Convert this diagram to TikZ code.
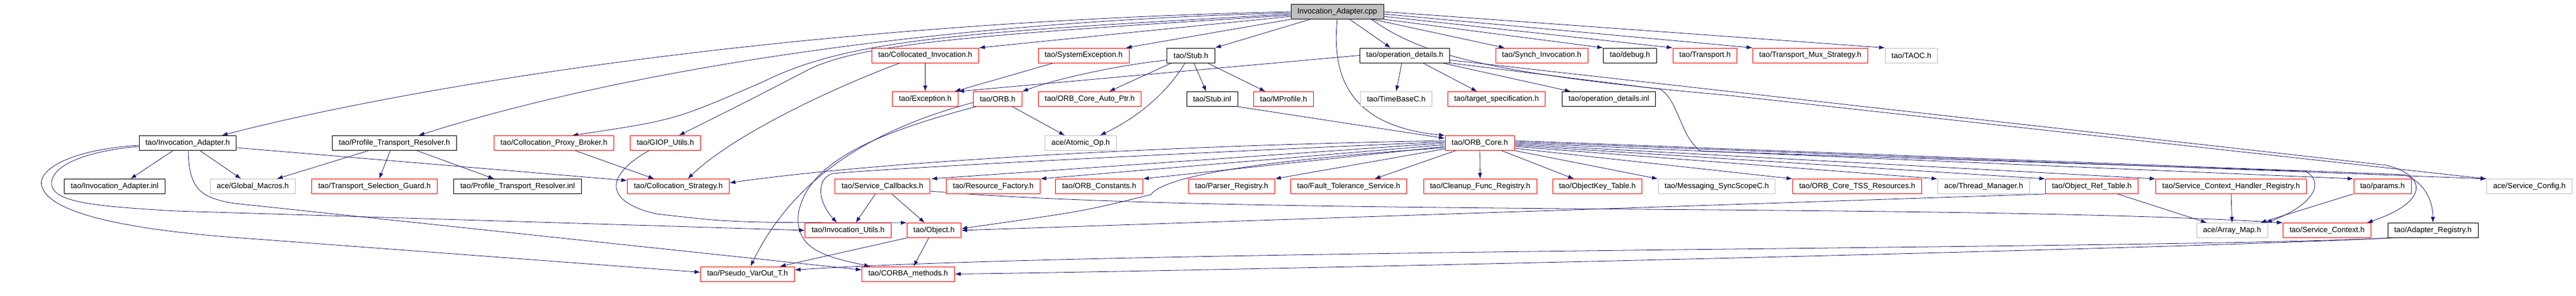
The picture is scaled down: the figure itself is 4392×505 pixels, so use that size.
\documentclass[tikz,border=0pt]{standalone}
\usepackage{fontspec}
\setmainfont{Liberation Sans}
\usetikzlibrary{arrows.meta,backgrounds}
\definecolor{edgeblue}{RGB}{25,25,112}
\definecolor{boxgrey}{RGB}{191,191,191}
\tikzset{
  filebox/.style={draw, line width=0.9pt, fill=white, inner xsep=11pt, inner ysep=0pt,
    minimum height=25pt, font=\fontsize{13}{15}\selectfont},
  blackbox/.style={filebox, draw=black},
  redbox/.style={filebox, draw=red},
  greybox/.style={filebox, draw=boxgrey},
  rootbox/.style={filebox, draw=black, fill=boxgrey},
  incl/.style={draw=edgeblue, line width=0.8pt, arrows={-Latex[length=10pt,width=7pt]}},
}
\begin{document}
\begin{tikzpicture}[x=1pt,y=-1pt]
\useasboundingbox (0,0) rectangle (4392,505);
% Datei
\node[rootbox] (rootcpp) at (2280,20) {Invocation\_Adapter.cpp};
% Reihe 1
\node[redbox]   (colinv)   at (1577.5,94.5) {tao/Collocated\_Invocation.h};
\node[redbox]   (sysexc)   at (1847.5,94.5) {tao/SystemException.h};
\node[blackbox] (stubh)    at (2030.5,94.5) {tao/Stub.h};
\node[blackbox] (opdet)    at (2395,94.5)   {tao/operation\_details.h};
\node[redbox]   (synch)    at (2628.5,94.5) {tao/Synch\_Invocation.h};
\node[blackbox] (debug)    at (2779,94.5)   {tao/debug.h};
\node[redbox]   (transp)   at (2907,94.5)   {tao/Transport.h};
\node[redbox]   (tmux)     at (3086.5,94.5) {tao/Transport\_Mux\_Strategy.h};
\node[greybox]  (taoc)     at (3259,94.5)   {tao/TAOC.h};
% Reihe 2
\node[redbox]   (exch)     at (1577.5,169) {tao/Exception.h};
\node[redbox]   (orbh)     at (1701,169)   {tao/ORB.h};
\node[redbox]   (orbcap)   at (1858,169)   {tao/ORB\_Core\_Auto\_Ptr.h};
\node[blackbox] (stubinl)  at (2066.5,169) {tao/Stub.inl};
\node[redbox]   (mprof)    at (2188.5,169) {tao/MProfile.h};
\node[greybox]  (timebase) at (2380.5,169) {tao/TimeBaseC.h};
\node[redbox]   (tspec)    at (2551.5,169) {tao/target\_specification.h};
\node[blackbox] (opdetinl) at (2743,169)   {tao/operation\_details.inl};
% Reihe 3
\node[blackbox] (iah)      at (320,244)    {tao/Invocation\_Adapter.h};
\node[blackbox] (ptrh)     at (672.5,244)  {tao/Profile\_Transport\_Resolver.h};
\node[redbox]   (cpb)      at (944.5,244)  {tao/Collocation\_Proxy\_Broker.h};
\node[redbox]   (giop)     at (1134.5,244) {tao/GIOP\_Utils.h};
\node[greybox]  (atomic)   at (1842.5,244) {ace/Atomic\_Op.h};
\node[redbox]   (orbcore)  at (2523,244)   {tao/ORB\_Core.h};
% Reihe 4
\node[blackbox] (iainl)    at (195.5,318)  {tao/Invocation\_Adapter.inl};
\node[greybox]  (globmac)  at (431,318)    {ace/Global\_Macros.h};
\node[redbox]   (tsg)      at (638.5,318)  {tao/Transport\_Selection\_Guard.h};
\node[blackbox] (ptrinl)   at (882.5,318)  {tao/Profile\_Transport\_Resolver.inl};
\node[redbox]   (colstrat) at (1156.5,318) {tao/Collocation\_Strategy.h};
\node[redbox]   (svccb)    at (1504.5,318) {tao/Service\_Callbacks.h};
\node[redbox]   (resfac)   at (1693.5,318) {tao/Resource\_Factory.h};
\node[redbox]   (orbconst) at (1874,318)   {tao/ORB\_Constants.h};
\node[redbox]   (parser)   at (2100,318)   {tao/Parser\_Registry.h};
\node[redbox]   (ftsvc)    at (2299.5,318) {tao/Fault\_Tolerance\_Service.h};
\node[redbox]   (cleanup)  at (2523.5,318) {tao/Cleanup\_Func\_Registry.h};
\node[redbox]   (okt)      at (2723.5,318) {tao/ObjectKey\_Table.h};
\node[greybox]  (msgsync)  at (2927,318)   {tao/Messaging\_SyncScopeC.h};
\node[redbox]   (tss)      at (3166.5,318) {tao/ORB\_Core\_TSS\_Resources.h};
\node[greybox]  (thrmgr)   at (3382,318)   {ace/Thread\_Manager.h};
\node[redbox]   (ort)      at (3566.5,318) {tao/Object\_Ref\_Table.h};
\node[redbox]   (schr)     at (3804,318)   {tao/Service\_Context\_Handler\_Registry.h};
\node[redbox]   (params)   at (4062,318)   {tao/params.h};
\node[greybox]  (svccfg)   at (4312.5,318) {ace/Service\_Config.h};
% Reihe 5
\node[redbox]   (invutil)  at (1446,393)   {tao/Invocation\_Utils.h};
\node[redbox]   (objh)     at (1592.5,393) {tao/Object.h};
\node[greybox]  (amap)     at (3805.5,393) {ace/Array\_Map.h};
\node[redbox]   (svcctx)   at (3967.5,393) {tao/Service\_Context.h};
\node[blackbox] (adreg)    at (4148,393)   {tao/Adapter\_Registry.h};
% Reihe 6
\node[redbox]   (pvo)      at (1274.5,467.5) {tao/Pseudo\_VarOut\_T.h};
\node[redbox]   (corba)    at (1548.5,467.5) {tao/CORBA\_methods.h};

\begin{scope}[on background layer]
% Invocation_Adapter.cpp
\draw[incl] (rootcpp.west) .. controls (1300,40) and (650,160) .. ([xshift=58pt]iah.north);
\draw[incl] ([yshift=-2pt]rootcpp.west) .. controls (1500,40) and (1000,140) .. ([xshift=41pt]ptrh.north);
\draw[incl] ([yshift=-4pt]rootcpp.west) .. controls (1650,55) and (1450,65) .. (1300,140) .. controls (1150,205) .. ([xshift=31pt]cpb.north);
\draw[incl] ([yshift=-6pt]rootcpp.west) .. controls (1650,60) and (1470,75) .. (1380,118) .. controls (1270,175) .. ([xshift=23pt]giop.north);
\draw[incl] ([yshift=-8pt]rootcpp.west) -- (colinv.north east);
\draw[incl] (rootcpp.south west) -- ([xshift=-6pt]sysexc.north east);
\draw[incl] ([xshift=-46pt]rootcpp.south) -- (stubh.north east);
\draw[incl] ([xshift=21pt]rootcpp.south) -- ([xshift=-24pt]opdet.north);
\draw[incl] (rootcpp.south) .. controls (2270,130) and (2300,215) .. (orbcore.north west);
\draw[incl] ([xshift=60pt]rootcpp.south) -- ([xshift=-63pt]synch.north);
\draw[incl] ([xshift=58pt]rootcpp.south) .. controls (2420,90) and (2520,125) .. (2950,163) -- (svccfg.north west);
\draw[incl] (rootcpp.south east) -- (debug.north west);
\draw[incl] ([yshift=-8pt]rootcpp.east) -- (transp.north west);
\draw[incl] ([yshift=-4pt]rootcpp.east) -- (tmux.north west);
\draw[incl] (rootcpp.east) -- (taoc.north west);
% operation_details.h
\draw[incl] (opdet.west) -- (exch.north east);
\draw[incl] ([xshift=-5pt]opdet.south) -- (timebase.north);
\draw[incl] ([xshift=31pt]opdet.south) -- ([xshift=-33pt]tspec.north);
\draw[incl] ([xshift=64pt]opdet.south) -- ([xshift=-65pt]opdetinl.north);
\draw[incl] ([yshift=-8pt]opdet.east) -- (4069,282) .. controls (4140,300) and (4140,345) .. ([xshift=68pt]svcctx.north);
\draw[incl] (opdet.south east) -- (2830,152) .. controls (2862,170) and (2865,235) .. (2900,258) -- (3930,292) .. controls (3965,310) and (3945,350) .. ([xshift=58pt]amap.north);
% Stub.h
\draw[incl] ([yshift=-8pt]stubh.west) .. controls (1900,112) and (1800,135) .. (orbh.north east);
\draw[incl] ([xshift=-33pt]stubh.south) -- ([xshift=33pt]orbcap.north);
\draw[incl] ([xshift=-10pt]stubh.south) .. controls (1995,150) and (1950,195) .. ([xshift=33pt]atomic.north);
\draw[incl] ([xshift=5pt]stubh.south) -- ([xshift=-10pt]stubinl.north);
\draw[incl] ([xshift=28pt]stubh.south) -- ([xshift=-31pt]mprof.north);
\draw[incl] (stubinl.south east) -- ([yshift=8pt]orbcore.west);
% Collocated_Invocation.h, SystemException.h, ORB.h
\draw[incl] (colinv.south) -- (exch.north);
\draw[incl] ([xshift=-43pt]colinv.south) .. controls (1420,150) and (1250,230) .. ([xshift=16pt]colstrat.north);
\draw[incl] ([xshift=-51pt]sysexc.south) -- ([xshift=50pt]exch.north);
\draw[incl] ([xshift=25pt]orbh.south) -- ([xshift=-27pt]atomic.north);
\draw[incl] ([yshift=-6pt]orbh.west) .. controls (1450,230) and (1340,330) .. ([xshift=5pt]pvo.north);
\draw[incl] ([xshift=5pt]orbh.south west) .. controls (1480,230) and (1380,280) .. (1362,360) .. controls (1350,430) and (1420,440) .. ([xshift=-65pt]corba.north);
% Invocation_Adapter.h
\draw[incl] ([xshift=-25pt]iah.south) -- ([xshift=27pt]iainl.north);
\draw[incl] ([xshift=21pt]iah.south) -- ([xshift=-20pt]globmac.north);
\draw[incl] ([yshift=-8pt]iah.east) -- ([yshift=10pt]colstrat.west);
\draw[incl] ([yshift=-4pt]iah.west) .. controls (120,255) and (60,290) .. (72,320) .. controls (90,370) and (250,395) .. (425,407) -- ([yshift=3pt]pvo.west);
\draw[incl] ([yshift=-6pt]iah.west) .. controls (140,258) and (85,285) .. (88,315) .. controls (92,345) and (160,352) .. (300,360) -- (invutil.west);
\draw[incl] ([xshift=1pt]iah.south) .. controls (322,320) and (340,338) .. (400,347) -- ([yshift=7pt]corba.west);
% Profile_Transport_Resolver.h, Collocation_Proxy_Broker.h, GIOP_Utils.h
\draw[incl] ([xshift=-44pt]ptrh.south) -- ([xshift=41pt]globmac.north);
\draw[incl] ([xshift=-7pt]ptrh.south) -- ([xshift=8pt]tsg.north);
\draw[incl] ([xshift=38pt]ptrh.south) -- ([xshift=-40pt]ptrinl.north);
\draw[incl] ([xshift=36pt]cpb.south) -- ([xshift=-41pt]colstrat.north);
\draw[incl] ([xshift=-28pt]giop.south) .. controls (1030,300) and (1030,345) .. (1120,365) .. controls (1250,380) .. ([yshift=13pt]objh.west);
% Service_Callbacks.h, Object.h
\draw[incl] ([xshift=-12pt]svccb.south) -- ([xshift=13pt]invutil.north);
\draw[incl] ([xshift=16pt]svccb.south) -- ([xshift=-16pt]objh.north);
\draw[incl] ([yshift=-8pt]svccb.east) .. controls (2100,370) and (3300,345) .. (svcctx.north west);
\draw[incl] (objh.south west) -- ([xshift=55pt]pvo.north);
\draw[incl] ([xshift=-9pt]objh.south) -- ([xshift=9pt]corba.north);
% rechts
\draw[incl] (ort.south west) -- (objh.east);
\draw[incl] ([xshift=44pt]ort.south) -- ([xshift=-43pt]amap.north);
\draw[incl] (schr.south) -- (amap.north);
\draw[incl] ([xshift=-50pt]params.south) -- ([xshift=48pt]amap.north);
\draw[incl] (adreg.south west) .. controls (3800,422) and (2200,460) .. (corba.east);
\draw[incl] ([xshift=8pt]adreg.south west) .. controls (3700,425) and (1900,425) .. ([yshift=7pt]pvo.east);
% ORB_Core.h
\draw[incl] ([yshift=4pt]orbcore.west) .. controls (2000,248) and (1500,275) .. ([yshift=6pt]colstrat.east);
\draw[incl] ([yshift=2pt]orbcore.west) .. controls (2000,262) and (1550,285) .. (1420,296) .. controls (1390,305) and (1395,345) .. ([xshift=-19pt]invutil.north);
\draw[incl] (orbcore.west) -- ([xshift=2pt]svccb.north east);
\draw[incl] ([yshift=-3pt]orbcore.west) -- (resfac.north east);
\draw[incl] ([yshift=-6pt]orbcore.west) -- (orbconst.north east);
\draw[incl] ([yshift=-8pt]orbcore.west) .. controls (2200,270) and (1990,295) .. (1962,332) .. controls (1850,360) .. ([yshift=3pt]objh.east);
\draw[incl] ([yshift=-10pt]orbcore.west) -- (parser.north east);
\draw[incl] ([xshift=-41pt]orbcore.south) -- ([xshift=44pt]ftsvc.north);
\draw[incl] (orbcore.south) -- (cleanup.north);
\draw[incl] ([xshift=37pt]orbcore.south) -- ([xshift=-40pt]okt.north);
\draw[incl] (orbcore.south east) -- (msgsync.north west);
\draw[incl] ([yshift=-9pt]orbcore.east) -- (tss.north west);
\draw[incl] ([yshift=-6pt]orbcore.east) -- (thrmgr.north west);
\draw[incl] ([yshift=-4pt]orbcore.east) -- (ort.north west);
\draw[incl] ([yshift=-2pt]orbcore.east) -- (schr.north west);
\draw[incl] (orbcore.east) -- (params.north west);
\draw[incl] ([yshift=2pt]orbcore.east) -- (svccfg.north west);
\draw[incl] ([yshift=4pt]orbcore.east) -- (4100,298) .. controls (4140,315) and (4148,350) .. (adreg.north);
\end{scope}
\end{tikzpicture}
\end{document}
